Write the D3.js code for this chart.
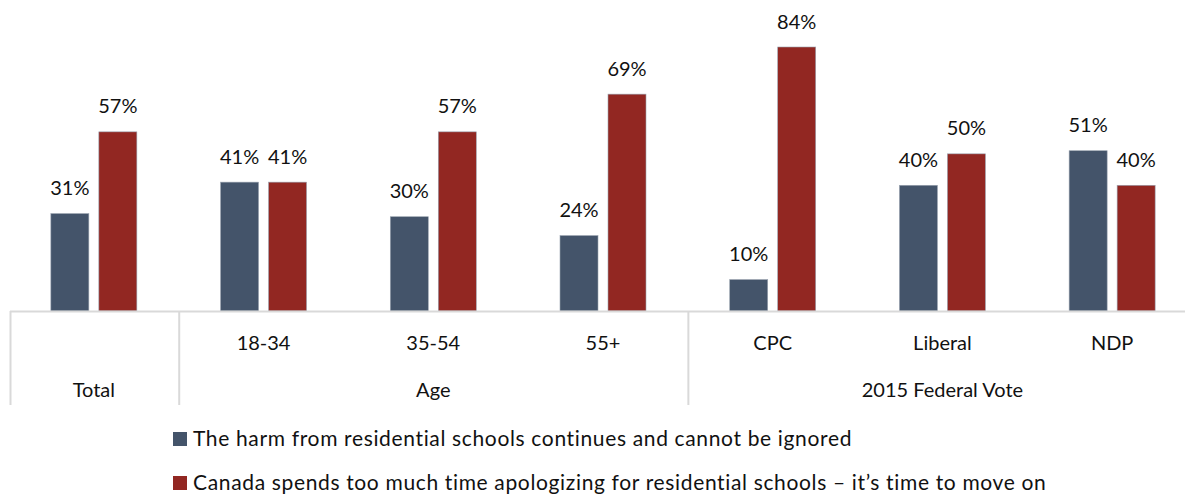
<!DOCTYPE html>
<html><head><meta charset="utf-8">
<script src="https://cdn.jsdelivr.net/npm/d3@7"></script>
<style>body{margin:0;background:#fff;} text{font-family:Lato,"Open Sans",sans-serif;fill:#111;}</style>
</head><body><svg id="c" width="1185" height="495"></svg>
<script>
const categories = ["Total","18-34","35-54","55+","CPC","Liberal","NDP"];
const groups = [{name:"Total",from:0,to:0},{name:"Age",from:1,to:3},{name:"2015 Federal Vote",from:4,to:6}];
const seriesNames = ["The harm from residential schools continues and cannot be ignored",
  "Canada spends too much time apologizing for residential schools \u2013 it\u2019s time to move on"];
const harm = [31,41,30,24,10,40,51];
const moveOn = [57,41,57,69,84,50,40];
const colors = ["#44546A","#922722"];

const svg = d3.select("#c");
const left = 9, right = 1197, base = 311;
const x = d3.scaleBand().domain(categories).range([left,right]);
const y = d3.scaleLinear().domain([0,84]).range([base,47]);
const barW = 38, gap = 10;

const series = [harm, moveOn];
series.forEach((vals,si)=>{
  const g = svg.append("g");
  const bx = (i)=>x(categories[i])+x.bandwidth()/2-(barW+gap/2)+si*(barW+gap);
  g.selectAll("rect").data(vals).join("rect")
    .attr("x",(d,i)=>bx(i))
    .attr("y",d=>y(d)).attr("width",barW).attr("height",d=>base-y(d))
    .attr("fill",colors[si]).attr("stroke","#9aa3b0").attr("stroke-width",0.6);
  g.selectAll("text").data(vals).join("text")
    .attr("x",(d,i)=>bx(i)+barW/2)
    .attr("y",d=>y(d)-18.5).attr("text-anchor","middle").attr("font-size",20)
    .text(d=>d+"%");
});

// axis
svg.append("line").attr("x1",10).attr("x2",1185).attr("y1",base+0.5).attr("y2",base+0.5)
  .attr("stroke","#d9d9d9").attr("stroke-width",2);
const sepX = [10, x(categories[1]), x(categories[4])];
svg.selectAll("line.sep").data(sepX).join("line").attr("class","sep")
  .attr("x1",d=>d+0.5).attr("x2",d=>d+0.5).attr("y1",base).attr("y2",405)
  .attr("stroke","#d9d9d9").attr("stroke-width",2);
svg.selectAll("text.l1").data(categories.slice(1)).join("text").attr("class","l1")
  .attr("x",d=>x(d)+x.bandwidth()/2).attr("y",350).attr("text-anchor","middle")
  .attr("font-size",20).text(d=>d);
svg.selectAll("text.l2").data(groups).join("text").attr("class","l2")
  .attr("x",d=>(x(categories[d.from])+x(categories[d.to])+x.bandwidth())/2).attr("y",397)
  .attr("text-anchor","middle").attr("font-size",20).text(d=>d.name);

// legend
const lg = svg.append("g");
seriesNames.forEach((n,i)=>{
  const yy = 432 + i*44;
  lg.append("rect").attr("x",173).attr("y",yy).attr("width",14).attr("height",14).attr("fill",colors[i]);
  lg.append("text").attr("x",193).attr("y",yy+14).attr("font-size",21).attr("letter-spacing",0.65).text(n);
});
</script></body></html>
